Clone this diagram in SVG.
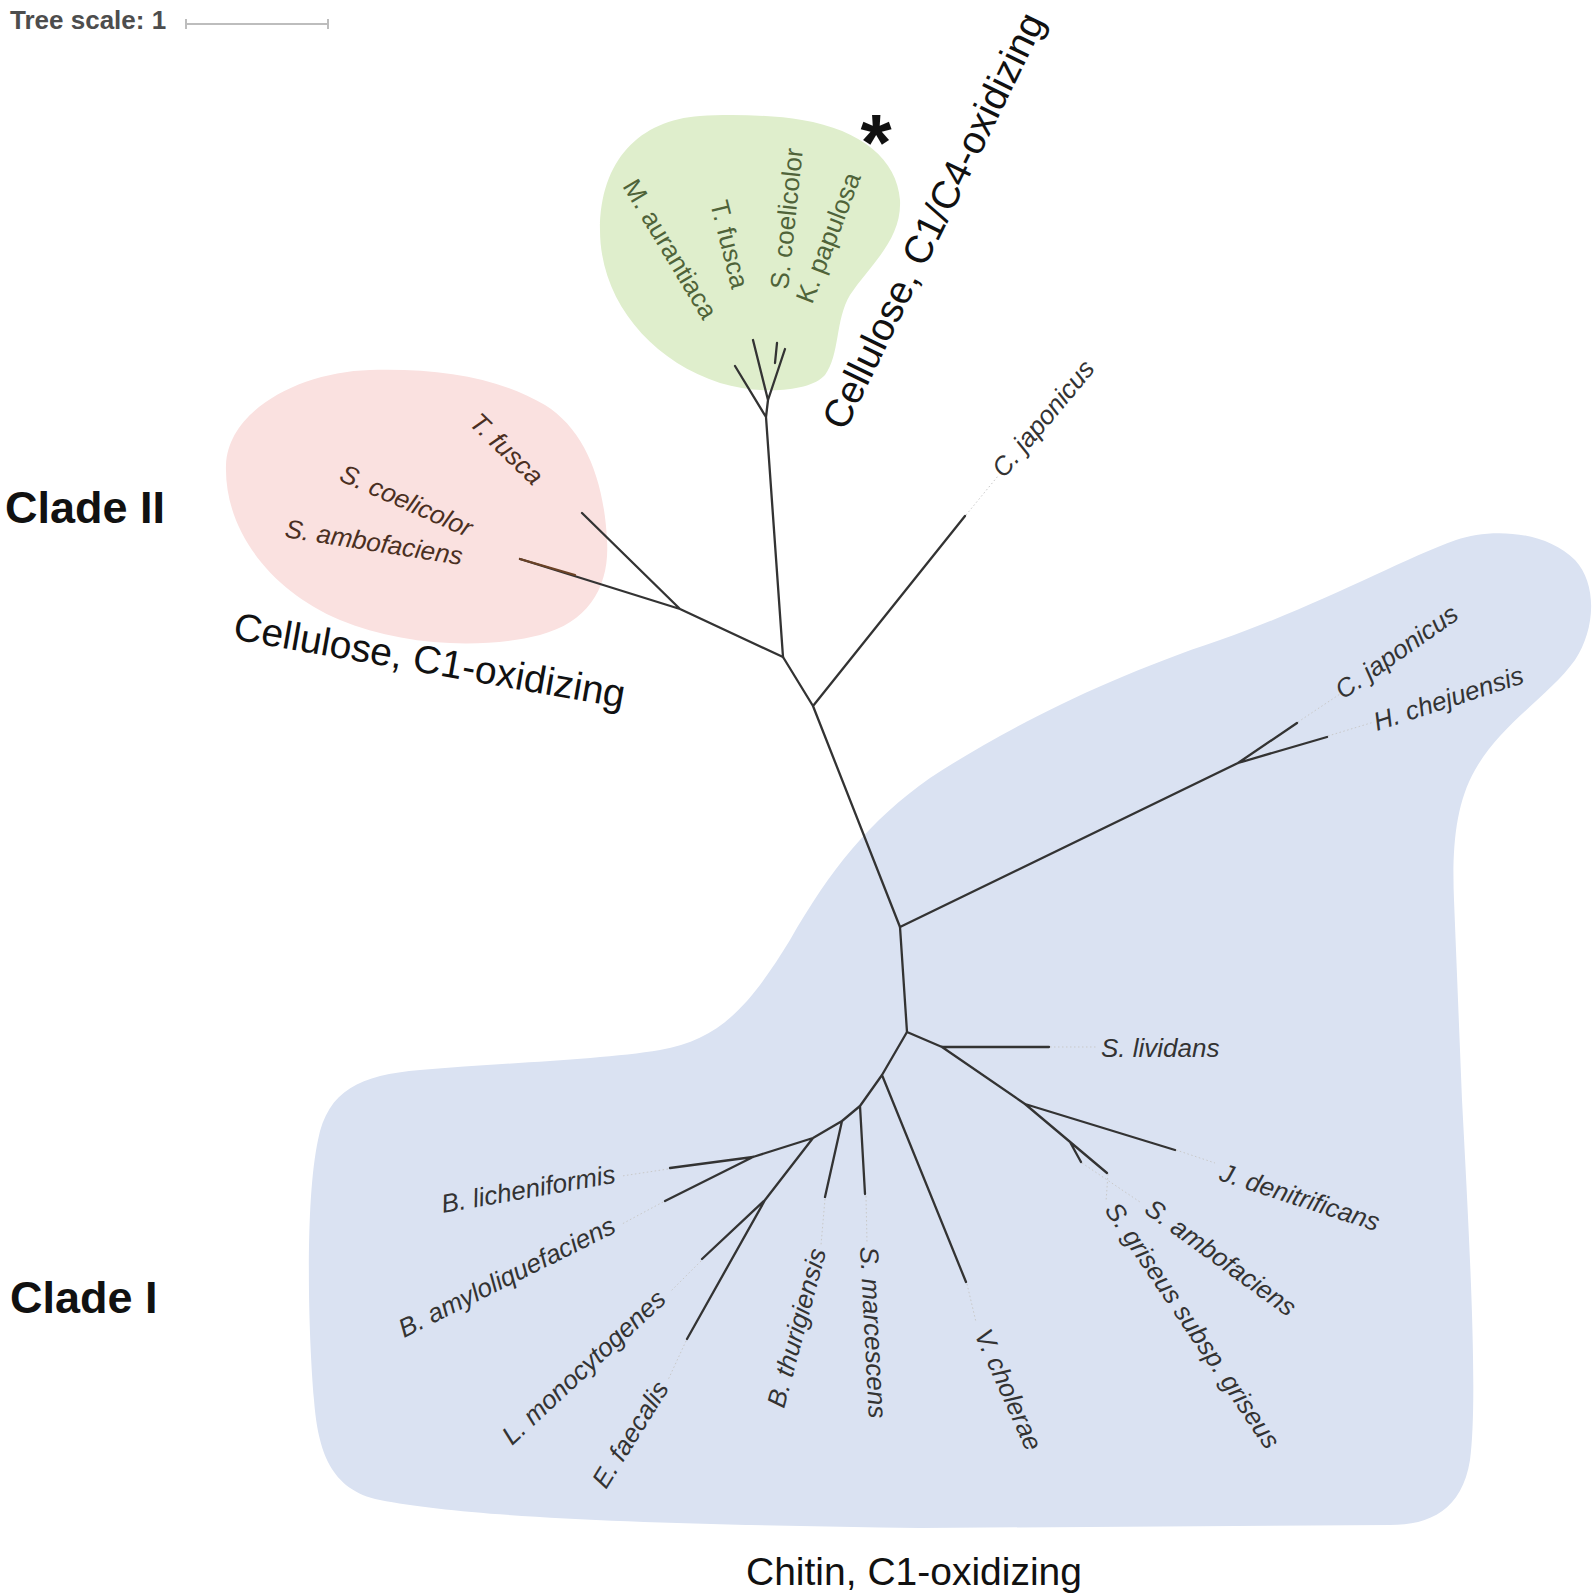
<svg xmlns="http://www.w3.org/2000/svg" width="1595" height="1596" viewBox="0 0 1595 1596">
<style>
.br{stroke:#333;stroke-width:2.3;fill:none;stroke-linecap:round;stroke-linejoin:round}
.lead{stroke:#c9c9c9;stroke-width:1;stroke-dasharray:1.5 2.5;fill:none}
.sp{font-family:"Liberation Sans",Arial,sans-serif;font-size:26px;font-style:italic;fill:#333}
.gr{font-style:normal;fill:#4f6339}
.rd{fill:#4a2f22}
.big{font-family:"Liberation Sans",Arial,sans-serif;font-size:39px;fill:#111}
.clade{font-family:"Liberation Sans",Arial,sans-serif;font-size:45px;font-weight:bold;fill:#111}
</style>
<rect width="1595" height="1596" fill="#fff"/>
<g id="scale">
<text x="10" y="29" font-family="Liberation Sans,Arial,sans-serif" font-size="26" font-weight="bold" fill="#4d4d4d">Tree scale: 1</text>
<path d="M186,24 H328 M186,19 V29 M328,19 V29" stroke="#bdbdbd" stroke-width="2" fill="none"/>
</g>
<g id="clade-chitin-blob">
<path fill="#dae2f2" d="M1456,540 C1490,528 1545,530 1575,560 C1598,585 1595,630 1575,660 C1550,695 1500,725 1475,770 C1455,805 1452,850 1454,900 L1462,1100 C1470,1250 1478,1400 1470,1460 C1462,1510 1430,1525 1390,1525 L920,1528 C700,1525 480,1520 380,1500 C330,1490 318,1450 314,1400 C308,1330 305,1200 318,1140 C328,1090 360,1075 420,1070 C500,1063 600,1060 660,1050 C720,1040 750,1005 790,940 C830,870 870,820 930,778 C1000,732 1100,680 1220,640 C1320,605 1400,560 1456,540 Z"/>
</g>
<g id="clade-c1-blob">
<path fill="#fae1e0" d="M370,370 C300,372 228,410 226,465 C224,530 270,590 340,620 C400,645 480,650 540,635 C590,622 610,585 607,540 C604,480 585,430 545,405 C500,378 440,368 370,370 Z"/>
</g>
<g id="clade-c1c4-blob">
<path fill="#dfeecc" d="M700,116 C640,120 600,160 600,230 C600,300 650,360 720,383 C760,395 810,392 825,375 C840,355 835,320 850,295 C870,265 902,240 900,200 C897,160 862,130 802,120 C772,115 730,114 700,116 Z"/>
</g>
<g id="connectors">
<path class="br" d="M783,657 L680,609 M680,609 L582,513 M680,609 L520,559"/>
<path d="M520,559 L575,575" stroke="#6b4226" stroke-width="2.3" stroke-linecap="round"/>
<path class="br" d="M783,657 L766,417 M766,417 L735,366 M766,417 L768,400 M768,400 L753,340 M768,400 L785,349 M775,363 L777,343"/>
<path class="br" d="M783,657 L813,706 M813,706 L965,516 M813,706 L900,927 M900,927 L1238,763 M1238,763 L1297,723 M1238,763 L1327,737"/>
<path class="br" d="M900,927 L907,1032 M907,1032 L942,1047 M942,1047 L1049,1047 M942,1047 L1025,1104 M1025,1104 L1175,1150 M1025,1104 L1107,1173 M1070,1142 L1081,1162"/>
<path class="br" d="M907,1032 L882,1075 L860,1106 L842,1121 L813,1138 L753,1157 M882,1075 L966,1282 M860,1106 L865,1194 M842,1121 L825,1197 M813,1138 L765,1200 L687,1339 M765,1200 L702,1259 M753,1157 L670,1168 M753,1157 L665,1201"/>
<path class="lead" d="M966,515 L998,476 M1298,722 L1340,694 M1328,736 L1374,722 M1050,1047 L1097,1047 M1176,1150 L1215,1163 M1082,1163 L1140,1202 M1108,1174 L1106,1202 M967,1284 L976,1322 M866,1196 L867,1243 M825,1199 L821,1245 M686,1341 L668,1380 M701,1261 L670,1292 M663,1202 L622,1224 M668,1169 L622,1176"/>
</g>
<g id="leaf-m-aurantiaca"><text class="sp gr" transform="translate(622,186) rotate(59)">M. aurantiaca</text></g>
<g id="leaf-t-fusca-green"><text class="sp gr" transform="translate(710,203) rotate(76)">T. fusca</text></g>
<g id="leaf-s-coelicolor-green"><text class="sp gr" transform="translate(788,290) rotate(-84)">S. coelicolor</text></g>
<g id="leaf-k-papulosa"><text class="sp gr" transform="translate(812,305) rotate(-69)">K. papulosa</text></g>
<g id="leaf-t-fusca-red"><text class="sp rd" transform="translate(468,424) rotate(44)">T. fusca</text></g>
<g id="leaf-s-coelicolor-red"><text class="sp rd" transform="translate(338,480) rotate(24)">S. coelicolor</text></g>
<g id="leaf-s-ambofaciens-red"><text class="sp rd" transform="translate(284,537) rotate(9)">S. ambofaciens</text></g>
<g id="leaf-c-japonicus-1"><text class="sp" transform="translate(1004,479) rotate(-50)">C. japonicus</text></g>
<g id="leaf-c-japonicus-2"><text class="sp" transform="translate(1343,700) rotate(-35)">C. japonicus</text></g>
<g id="leaf-h-chejuensis"><text class="sp" transform="translate(1377,731) rotate(-18)">H. chejuensis</text></g>
<g id="leaf-s-lividans"><text class="sp" x="1101" y="1057">S. lividans</text></g>
<g id="leaf-j-denitrificans"><text class="sp" transform="translate(1218,1180) rotate(18)">J. denitrificans</text></g>
<g id="leaf-s-ambofaciens-blue"><text class="sp" transform="translate(1143,1212) rotate(36)">S. ambofaciens</text></g>
<g id="leaf-s-griseus"><text class="sp" transform="translate(1104,1210) rotate(56)">S. griseus subsp. griseus</text></g>
<g id="leaf-v-cholerae"><text class="sp" transform="translate(974,1334) rotate(66)">V. cholerae</text></g>
<g id="leaf-s-marcescens"><text class="sp" transform="translate(860,1247) rotate(87)">S. marcescens</text></g>
<g id="leaf-b-thurigiensis"><text class="sp" transform="translate(784,1409) rotate(-75)">B. thurigiensis</text></g>
<g id="leaf-e-faecalis"><text class="sp" transform="translate(606,1490) rotate(-58)">E. faecalis</text></g>
<g id="leaf-l-monocytogenes"><text class="sp" transform="translate(512,1446) rotate(-43)">L. monocytogenes</text></g>
<g id="leaf-b-amyloliquefaciens"><text class="sp" transform="translate(404,1338) rotate(-26.5)">B. amyloliquefaciens</text></g>
<g id="leaf-b-licheniformis"><text class="sp" transform="translate(443,1213) rotate(-10)">B. licheniformis</text></g>
<g id="labels">
<text class="clade" x="5" y="523">Clade II</text>
<text class="clade" x="10" y="1313">Clade I</text>
<text class="big" transform="translate(232,639) rotate(10)">Cellulose, C1-oxidizing</text>
<text class="big" transform="translate(845,432) rotate(-64)">Cellulose, C1/C4-oxidizing</text>
<text class="big" x="746" y="1585">Chitin, C1-oxidizing</text>
<text x="876" y="170" text-anchor="middle" font-family="Liberation Sans,Arial,sans-serif" font-size="80" font-weight="bold" fill="#111">*</text>
</g>
</svg>
